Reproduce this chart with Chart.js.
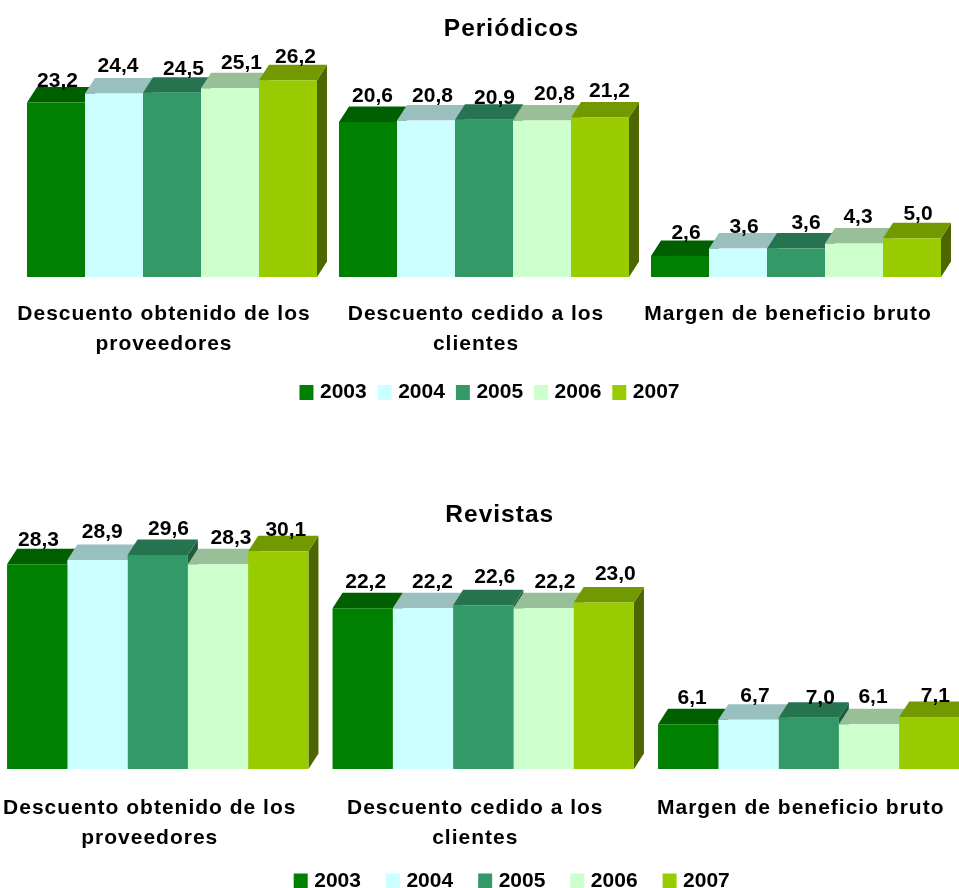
<!DOCTYPE html>
<html>
<head>
<meta charset="utf-8">
<title>Periódicos y Revistas</title>
<script src="https://cdn.jsdelivr.net/npm/chart.js@4/dist/chart.umd.min.js"></script>
<style>
html, body { margin: 0; padding: 0; width: 959px; height: 888px; overflow: hidden; background: #fff; }
canvas { position: absolute; }
#periodicos { left: 0; top: 0; }
#revistas { left: -20px; top: 444px; }
</style>
</head>
<body>
<canvas id="periodicos" width="970" height="427"></canvas>
<canvas id="revistas" width="1010" height="493"></canvas>
<script>
var years = ['2003', '2004', '2005', '2006', '2007']
var categories = [['Descuento obtenido de los', 'proveedores'], ['Descuento cedido a los', 'clientes'], 'Margen de beneficio bruto']

// Periódicos
var per2003 = [23.2, 20.6, 2.6]
var per2004 = [24.4, 20.8, 3.6]
var per2005 = [24.5, 20.9, 3.6]
var per2006 = [25.1, 20.8, 4.3]
var per2007 = [26.2, 21.2, 5.0]

// Revistas
var rev2003 = [28.3, 22.2, 6.1]
var rev2004 = [28.9, 22.2, 6.7]
var rev2005 = [29.6, 22.6, 7.0]
var rev2006 = [28.3, 22.2, 6.1]
var rev2007 = [30.1, 23.0, 7.1]

var frontColors = ['#008000', '#CCFFFF', '#339966', '#CCFFCC', '#99CC00']
var topColors = ['#006000', '#99BFBF', '#267350', '#99BF99', '#739900']
var sideColors = ['#004D00', '#7A9999', '#1F5C3D', '#7A997A', '#4D6600']

// hand placed value labels, offset from the bar centre and top (one row per year)
var perNudgeX = [[1.5, 4.5, 6], [4, 6.5, 6], [11.5, 10.5, 10], [11.5, 12.5, 4], [7.5, 9.5, 6]]
var perNudgeY = [[-16, -20, -17.5], [-22, -18, -16], [-18, -16, -20], [-19, -20, -20], [-17, -20, -18]]
var revNudgeX = [[1.3, 3, 4], [4.8, 9.5, 6.5], [10.8, 11.5, 11.5], [13, 11.5, 4], [7.5, 11.5, 6]]
var revNudgeY = [[-18, -20, -20], [-22, -20, -18], [-20, -22, -14], [-20, -20, -21], [-15, -22, -15]]

var DEPTH_X = 10
var DEPTH_Y = 15.5

Chart.defaults.font.family = '"Liberation Sans", Arial, sans-serif'
Chart.defaults.font.weight = 'bold'
Chart.defaults.color = '#000'

function shape(ctx, color, pts) {
    ctx.fillStyle = color
    ctx.beginPath()
    ctx.moveTo(pts[0][0], pts[0][1])
    for (var i = 1; i < pts.length; i++) ctx.lineTo(pts[i][0], pts[i][1])
    ctx.closePath()
    ctx.fill()
}

// top and right faces, left to right, all before the fronts go on
var bars3d = {
    id: 'bars3d',
    beforeDatasetsDraw: function (chart) {
        var ctx = chart.ctx
        chart.data.datasets.forEach(function (ds, i) {
            chart.getDatasetMeta(i).data.forEach(function (bar) {
                var l = bar.x - bar.width / 2
                var r = bar.x + bar.width / 2
                shape(ctx, sideColors[i], [[r, bar.y], [r + DEPTH_X, bar.y - DEPTH_Y], [r + DEPTH_X, bar.base - DEPTH_Y], [r, bar.base]])
                shape(ctx, topColors[i], [[l, bar.y], [r, bar.y], [r + DEPTH_X, bar.y - DEPTH_Y], [l + DEPTH_X, bar.y - DEPTH_Y]])
            })
        })
    }
}

var valueLabels = {
    id: 'valueLabels',
    afterDatasetsDraw: function (chart, args, opts) {
        var ctx = chart.ctx
        ctx.save()
        ctx.letterSpacing = '0px'
        ctx.font = 'bold 21px "Liberation Sans"'
        ctx.textAlign = 'center'
        ctx.textBaseline = 'alphabetic'
        ctx.fillStyle = '#000'
        chart.data.datasets.forEach(function (ds, i) {
            chart.getDatasetMeta(i).data.forEach(function (bar, j) {
                ctx.fillText(ds.data[j].toFixed(1).replace('.', ','), bar.x + opts.nudgeX[i][j], bar.y + opts.nudgeY[i][j])
            })
        })
        ctx.restore()
    }
}

function noSpacing(box, name) {
    var fn = box[name]
    box[name] = function () {
        var keep = this.ctx.letterSpacing
        this.ctx.letterSpacing = '0px'
        fn.apply(this, arguments)
        this.ctx.letterSpacing = keep
    }
}

// the title and legend do not sit on the centre of the canvas in the original
var placeBlocks = {
    id: 'placeBlocks',
    beforeUpdate: function (chart) {
        chart.ctx.letterSpacing = '1px'
        if (!chart.legend.tight) {
            noSpacing(chart.legend, 'fit')
            noSpacing(chart.legend, 'draw')
            chart.legend.tight = true
        }
    },
    afterLayout: function (chart, args, opts) {
        chart.titleBlock.left += opts.titleX
        chart.titleBlock.right += opts.titleX
        chart.legend.left += opts.legendX
        chart.legend.right += opts.legendX
        chart.legend.top += opts.legendY
        chart.legend.bottom += opts.legendY
    }
}

function drawChart(id, title, series, o) {
    var ctx = document.getElementById(id).getContext('2d')
    return new Chart(ctx, {
        type: 'bar',
        data: {
            labels: categories,
            datasets: series.map(function (values, i) {
                return { label: years[i], data: values, backgroundColor: frontColors[i], base: o.yMin }
            })
        },
        options: {
            responsive: false,
            animation: false,
            categoryPercentage: o.groupShare,
            barPercentage: 1,
            layout: { padding: { left: o.padLeft, right: o.padRight, top: 0, bottom: 0 } },
            scales: {
                x: {
                    grid: { display: false, drawTicks: false },
                    border: { display: false },
                    ticks: { font: { size: 21, lineHeight: 1.43 }, padding: o.tickPad, labelOffset: -8, maxRotation: 0, autoSkip: false }
                },
                y: { display: false, min: o.yMin, max: o.yMax }
            },
            plugins: {
                tooltip: { enabled: false },
                title: { display: true, text: title, font: { size: 24.5 }, padding: { top: o.titleTop, bottom: 0 } },
                legend: {
                    position: 'bottom',
                    labels: {
                        font: { size: 21 },
                        padding: o.legendPad,
                        boxWidth: 6,
                        boxHeight: 7,
                        generateLabels: function () {
                            return years.map(function (y, i) {
                                return { text: y, fillStyle: frontColors[i], strokeStyle: frontColors[i], lineWidth: 8, datasetIndex: i }
                            })
                        }
                    }
                },
                valueLabels: { nudgeX: o.nudgeX, nudgeY: o.nudgeY },
                placeBlocks: { titleX: o.titleX, legendX: o.legendX, legendY: o.legendY }
            }
        },
        plugins: [bars3d, valueLabels, placeBlocks]
    })
}

drawChart('periodicos', 'Periódicos', [per2003, per2004, per2005, per2006, per2007], {
    groupShare: 0.9295, padLeft: 16, padRight: 18, yMin: -0.2, yMax: 31, tickPad: 22, titleTop: 15,
    legendPad: 15, titleX: 27.5, legendX: 7.5, legendY: -14, nudgeX: perNudgeX, nudgeY: perNudgeY
})
drawChart('revistas', 'Revistas', [rev2003, rev2004, rev2005, rev2006, rev2007], {
    groupShare: 0.926, padLeft: 15, padRight: 18.5, yMin: -0.12, yMax: 33, tickPad: 24, titleTop: 57,
    legendPad: 29, titleX: 16.5, legendX: 30.5, legendY: -35.5, nudgeX: revNudgeX, nudgeY: revNudgeY
})
</script>
</body>
</html>
